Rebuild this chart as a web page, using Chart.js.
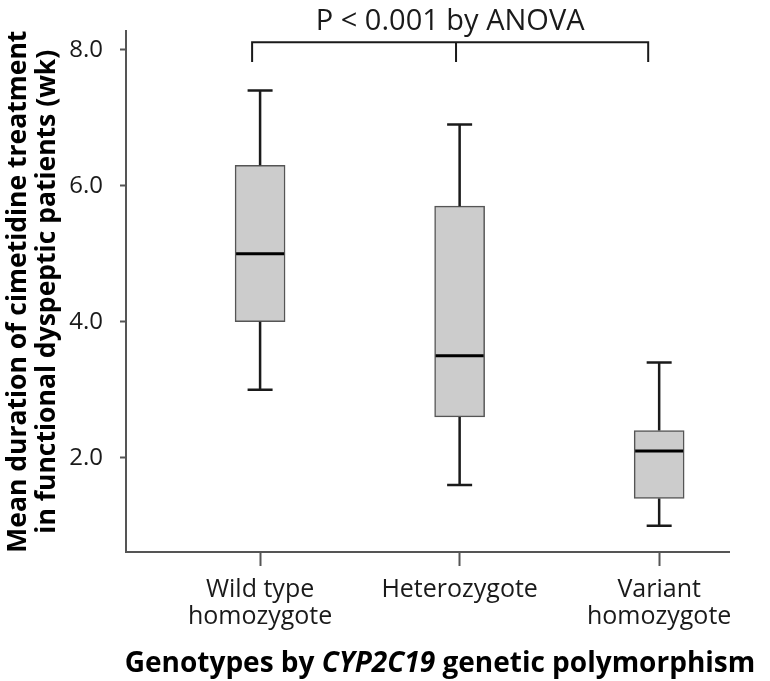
<!DOCTYPE html>
<html lang="en">
<head>
    <meta charset="UTF-8">
    <title>Cimetidine treatment duration by CYP2C19 genotype</title>
    <script src="https://cdn.jsdelivr.net/npm/chart.js"></script>
    <style>
        html, body { margin: 0; padding: 0; background: #fff; }
        .chart-box { width: 770px; height: 681px; position: relative; }
    </style>
</head>
<body>
    <div class="chart-box"><canvas id="boxChart"></canvas></div>

    <script>
        // Genotype groups, placed at 1, 2, 3 on the x scale
        const genotypes = [['Wild type', 'homozygote'], 'Heterozygote', ['Variant', 'homozygote']];
        const groupPos = [1, 2, 3];

        // Box plot summary (weeks)
        const whiskerLow = [3.0, 1.6, 1.0];
        const quartile1 = [4.0, 2.6, 1.4];
        const medians = [5.0, 3.5, 2.1];
        const quartile3 = [6.3, 5.7, 2.4];
        const whiskerHigh = [7.4, 6.9, 3.4];

        const yTicks = [2, 4, 6, 8];
        const pLabel = 'P < 0.001 by ANOVA';

        const FONT = "'Open Sans', 'Noto Sans', sans-serif";
        const INK = '#1a1a1a';
        const AXIS = '#555555';

        // whiskers, caps, medians, the ANOVA bracket and the x title
        const boxExtras = {
            id: 'boxExtras',
            afterDatasetsDraw(chart) {
                const { ctx, scales: { x, y } } = chart;
                const bars = chart.getDatasetMeta(0).data;
                ctx.save();
                groupPos.forEach((g, i) => {
                    const px = x.getPixelForValue(g);
                    const bw = bars[i].width;
                    const capHalf = 12.5;
                    ctx.strokeStyle = INK;
                    ctx.lineWidth = 2.5;
                    ctx.beginPath();
                    ctx.moveTo(px, y.getPixelForValue(quartile3[i]));
                    ctx.lineTo(px, y.getPixelForValue(whiskerHigh[i]));
                    ctx.moveTo(px, y.getPixelForValue(quartile1[i]));
                    ctx.lineTo(px, y.getPixelForValue(whiskerLow[i]));
                    ctx.moveTo(px - capHalf, y.getPixelForValue(whiskerHigh[i]));
                    ctx.lineTo(px + capHalf, y.getPixelForValue(whiskerHigh[i]));
                    ctx.moveTo(px - capHalf, y.getPixelForValue(whiskerLow[i]));
                    ctx.lineTo(px + capHalf, y.getPixelForValue(whiskerLow[i]));
                    ctx.stroke();
                    // median
                    ctx.lineWidth = 3;
                    ctx.strokeStyle = '#000';
                    ctx.beginPath();
                    ctx.moveTo(px - bw / 2 + 1, y.getPixelForValue(medians[i]));
                    ctx.lineTo(px + bw / 2 - 1, y.getPixelForValue(medians[i]));
                    ctx.stroke();
                });
                ctx.restore();
            },
            afterDraw(chart) {
                const { ctx, scales: { x, y } } = chart;
                ctx.save();

                // bracket over the three groups
                const bx = [0.96, 1.982, 2.945].map(v => x.getPixelForValue(v));
                const top = y.getPixelForValue(8.11);
                const foot = y.getPixelForValue(7.82);
                ctx.strokeStyle = INK;
                ctx.lineWidth = 2;
                ctx.beginPath();
                ctx.moveTo(bx[0], foot);
                ctx.lineTo(bx[0], top);
                ctx.lineTo(bx[2], top);
                ctx.lineTo(bx[2], foot);
                ctx.moveTo(bx[1], top);
                ctx.lineTo(bx[1], foot);
                ctx.stroke();

                ctx.fillStyle = INK;
                ctx.font = '29px ' + FONT;
                ctx.textAlign = 'center';
                ctx.textBaseline = 'alphabetic';
                ctx.fillText(pLabel, (bx[0] + bx[2]) / 2, 30);

                // x axis title, with the gene name in italics
                const parts = [
                    { t: 'Genotypes by ', f: 'bold 28px ' + FONT },
                    { t: 'CYP2C19', f: 'italic bold 28px ' + FONT },
                    { t: ' genetic polymorphism', f: 'bold 28px ' + FONT }
                ];
                let total = 0;
                parts.forEach(p => { ctx.font = p.f; p.w = ctx.measureText(p.t).width; total += p.w; });
                let cx = 440 - total / 2;
                ctx.textAlign = 'left';
                ctx.fillStyle = '#000';
                parts.forEach(p => {
                    ctx.font = p.f;
                    ctx.fillText(p.t, cx, 672);
                    cx += p.w;
                });
                ctx.restore();
            }
        };

        function drawChart() {
            const ctx = document.getElementById('boxChart').getContext('2d');
            new Chart(ctx, {
                type: 'bar',
                data: {
                    datasets: [{
                        label: 'IQR',
                        data: groupPos.map((g, i) => ({ x: g, y: [quartile1[i], quartile3[i]] })),
                        backgroundColor: '#cccccc',
                        borderColor: AXIS,
                        borderWidth: 1.5,
                        borderSkipped: false,
                        barThickness: 50
                    }]
                },
                options: {
                    responsive: true,
                    maintainAspectRatio: false,
                    animation: false,
                    layout: { padding: { left: 0, right: 41, top: 30, bottom: 0 } },
                    plugins: {
                        legend: { display: false },
                        tooltip: { enabled: false }
                    },
                    scales: {
                        x: {
                            type: 'linear',
                            min: 0.328,
                            max: 3.35,
                            offset: false,
                            afterBuildTicks: s => { s.ticks = groupPos.map(v => ({ value: v })); },
                            afterFit: s => { s.height = 129; },
                            grid: { offset: false, drawOnChartArea: false, tickLength: 14, tickWidth: 2, tickColor: AXIS },
                            border: { color: AXIS, width: 2 },
                            ticks: {
                                padding: 10,
                                color: INK,
                                font: { family: FONT, size: 25, lineHeight: 1.1 },
                                maxRotation: 0,
                                autoSkip: false,
                                callback: v => genotypes[groupPos.indexOf(v)]
                            }
                        },
                        y: {
                            min: 0.613,
                            max: 8.27,
                            afterBuildTicks: s => { s.ticks = yTicks.map(v => ({ value: v })); },
                            afterFit: s => { s.width = 126; },
                            grid: { drawOnChartArea: false, tickLength: 6, tickWidth: 2, tickColor: AXIS },
                            border: { color: AXIS, width: 2 },
                            ticks: {
                                padding: 17,
                                color: INK,
                                font: { family: FONT, size: 24 },
                                callback: v => v.toFixed(1)
                            },
                            title: {
                                display: true,
                                text: ['Mean duration of cimetidine treatment', 'in functional dyspeptic patients (wk)'],
                                color: '#000',
                                font: { family: FONT, size: 26.5, weight: 'bold', lineHeight: 1.13 },
                                padding: { top: 3, bottom: 0 }
                            }
                        }
                    }
                },
                plugins: [boxExtras]
            });
        }

        window.onload = drawChart;
    </script>
</body>
</html>
